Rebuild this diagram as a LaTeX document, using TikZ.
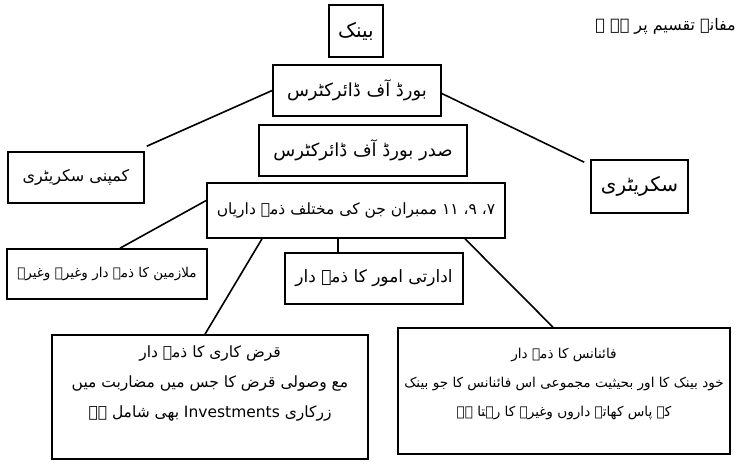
\documentclass[tikz,border=0pt]{standalone}
\usepackage{fontspec}
\usetikzlibrary{calc}
\TeXXeTstate=1
\newfontfamily\urfont[Script=Arabic]{DejaVu Sans}
\newcommand\urd[1]{{\urfont\beginR #1\endR}}
\newcommand\fs[1]{\fontsize{#1}{1.2\dimexpr#1pt\relax}\selectfont}
\begin{document}
\begin{tikzpicture}[x=1pt,y=-1pt,
  box/.style={draw, line width=1.6pt, inner sep=0pt},
  txt/.style={inner sep=0pt, align=center},
  link/.style={line width=1.6pt}]
\useasboundingbox (0,0) rectangle (736,468);
\fill[white] (0,0) rectangle (736,468);

\node[anchor=east, inner sep=0pt, font=\fs{16}] (title) at (736,26) {\urd{مفانہ تقسیم پر ہے ۔}};

\node[box, font=\fs{20}, minimum width=54pt, minimum height=52pt] (bank) at (356,31) {\urd{بینک}};
\node[box, font=\fs{18}, minimum width=168pt, minimum height=51pt] (board) at (357,90.5) {\urd{بورڈ آف ڈائرکٹرس}};
\node[box, font=\fs{18}, minimum width=208pt, minimum height=51pt] (sadr) at (363,150.5) {\urd{صدر بورڈ آف ڈائرکٹرس}};
\node[box, font=\fs{15.5}, minimum width=298pt, minimum height=55pt] (mem) at (356,210.5) {\urd{۷، ۹، ۱۱ ممبران جن کی مختلف ذمہ داریاں}};
\node[box, font=\fs{16}, minimum width=136pt, minimum height=51pt] (comp) at (76,177.5) {\urd{کمپنی سکریٹری}};
\node[box, font=\fs{20}, minimum width=97pt, minimum height=53pt] (secr) at (639.5,186.5) {\urd{سکریٹری}};
\node[box, font=\fs{13.5}, minimum width=200pt, minimum height=50pt] (mulaz) at (107,274) {\urd{ملازمین کا ذمہ دار وغیرہ وغیرہ}};
\node[box, font=\fs{17}, minimum width=178pt, minimum height=51pt] (idari) at (374,278.5) {\urd{ادارتی امور کا ذمہ دار}};

\node[box, minimum width=316pt, minimum height=124pt] (qarz) at (210,397) {};
\node[txt, font=\fontsize{15.5}{30}\selectfont] (qarzt) at ($(qarz.north)+(0,49)$) {\urd{قرض کاری کا ذمہ دار}\\\urd{مع وصولی قرض کا جس میں مضاربت میں}\\\urd{زرکاری \beginL Investments\endL{} بھی شامل ہے}};

\node[box, minimum width=332pt, minimum height=126pt] (fin) at (564,391) {};
\node[txt, font=\fontsize{13.6}{29}\selectfont] (fint) at ($(fin.north)+(0,57)$) {\urd{فائنانس کا ذمہ دار}\\\urd{خود بینک کا اور بحیثیت مجموعی اس فائنانس کا جو بینک}\\\urd{کے پاس کھاتہ داروں وغیرہ کا رہتا ہے}};

\draw[link] (board.west) -- ($(comp.north east)+(2,-5)$);
\draw[link] ($(board.east)+(0,3)$) -- ($(secr.north west)+(-6,3)$);
\draw[link] ($(mem.west)+(0,-10)$) -- ($(mulaz.north)+(13,0)$);
\path ($(mem.south)+(-18,0)$) coordinate (m1);
\draw[link] (m1) -- (m1 |- idari.north);
\draw[link] ($(mem.south)+(-94,0)$) -- ($(qarz.north)+(-5,0)$);
\draw[link] ($(mem.south)+(109,0)$) -- ($(fin.north)+(-11,0)$);
\end{tikzpicture}
\end{document}
